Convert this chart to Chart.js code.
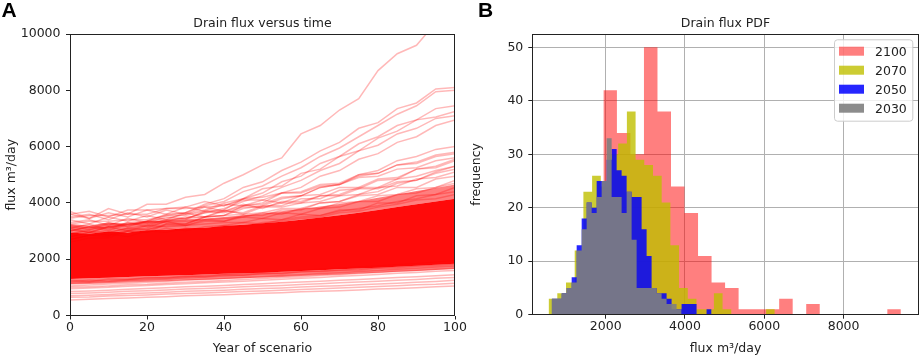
<!DOCTYPE html>
<html><head><meta charset="utf-8">
<script src="https://cdn.jsdelivr.net/npm/chart.js@4.4.1/dist/chart.umd.min.js"></script>
<style>
html,body{margin:0;padding:0;background:#fff;width:920px;height:359px;overflow:hidden;}
#wa{position:absolute;left:0;top:0;width:470px;height:359px;}
#wb{position:absolute;left:460px;top:0;width:460px;height:359px;}
</style></head><body>
<div id="wa"><canvas id="ca" width="470" height="359"></canvas></div>
<div id="wb"><canvas id="cb" width="460" height="359"></canvas></div>
<script>
// ---------- data: panel A (drain flux vs time) ----------
const years = [0,5,10,15,20,25,30,35,40,45,50,55,60,65,70,75,80,85,90,95,100];
const xTicksA = [0,20,40,60,80,100];
const yTicksA = [0,2000,4000,6000,8000,10000];
// dense envelope of the ensemble
const bandOuterLow  = [1100,1120,1150,1170,1200,1220,1250,1270,1300,1320,1350,1370,1400,1430,1460,1490,1520,1550,1580,1620,1650];
const coreLow       = [1300,1320,1340,1370,1390,1410,1430,1460,1480,1500,1520,1550,1580,1610,1640,1670,1700,1730,1770,1800,1840];
const coreHigh      = [2950,2900,2980,2950,3030,3050,3100,3120,3180,3220,3280,3330,3400,3480,3560,3650,3750,3850,3950,4050,4150];
const bandOuterHigh = [3250,3200,3300,3250,3350,3380,3420,3450,3500,3560,3620,3700,3780,3870,3960,4060,4180,4300,4420,4530,4650];
// individual realisations outside the dense core
const outlierRuns = [
 [3600,3450,3800,3600,3950,3950,4200,4300,4700,5000,5350,5600,6450,6750,7300,7700,8700,9300,9600,10400,11200],
 [3000,3150,3100,3300,3350,3600,3650,3950,4150,4550,4750,5150,5450,5850,6150,6650,6850,7350,7550,8050,8100],
 [2900,3050,3150,3250,3350,3550,3650,3900,4050,4400,4600,4950,5250,5650,5950,6350,6750,7150,7450,7950,8000],
 [2700,2850,2850,3050,3100,3350,3400,3700,3750,4150,4350,4750,4950,5400,5650,6100,6350,6750,6950,7350,7450],
 [3100,2950,3150,3200,3350,3450,3600,3750,4000,4150,4500,4600,5050,5200,5650,5850,6300,6550,6950,7050,7250],
 [2800,2950,2950,3100,3200,3400,3450,3650,3800,4050,4250,4550,4800,5150,5400,5850,6050,6450,6650,7000,7100],
 [2600,2750,2750,3000,2950,3250,3250,3500,3550,3900,4000,4350,4550,4950,5150,5550,5750,6150,6350,6750,6950],
 [2700,2850,2800,3000,3050,3250,3250,3500,3550,3800,3900,4150,4250,4550,4650,5000,5150,5500,5650,5900,6000],
 [3000,3150,3000,3250,3250,3400,3450,3650,3700,3900,3950,4200,4250,4550,4650,4950,5050,5350,5450,5700,5800]
];
const upperRuns = [
 [3700,3450,3650,3500,3750,3600,3850,3700,3950,3900,4100,4000,4250,4300,4550,4550,4850,4900,5200,5250,5500],
 [3500,3600,3400,3650,3500,3750,3600,3850,3700,3950,3800,4050,4050,4250,4300,4550,4550,4850,4950,5150,5300],
 [3400,3250,3500,3350,3550,3400,3650,3500,3750,3600,3850,3850,4000,4050,4250,4300,4550,4600,4850,4900,5100],
 [3300,3400,3200,3450,3300,3500,3450,3500,3550,3600,3650,3800,3800,4000,4050,4250,4300,4550,4550,4850,4950],
 [3200,3100,3300,3150,3350,3300,3350,3400,3450,3500,3650,3600,3800,3800,4000,4050,4250,4300,4500,4550,4800],
 [3100,3250,3050,3300,3150,3350,3200,3400,3350,3500,3450,3650,3600,3800,3850,4050,4050,4300,4350,4550,4700],
 [3600,3700,3500,3750,3750,3800,3850,4050,3900,4150,4200,4350,4400,4650,4700,5000,5050,5350,5400,5650,5750],
 [3050,2950,3150,3000,3200,3150,3200,3250,3300,3300,3450,3400,3600,3550,3750,3750,4000,4000,4250,4300,4550],
 [3450,3550,3550,3600,3600,3800,3800,3850,3900,4100,4100,4350,4350,4600,4650,4900,4950,5200,5250,5500,5600],
 [3250,3350,3350,3400,3400,3550,3550,3700,3650,3850,3850,4000,4000,4250,4250,4500,4500,4750,4800,5050,5200],
 [2900,3000,2950,3100,3050,3200,3200,3350,3350,3550,3550,3750,3750,4000,4050,4300,4400,4700,4800,5100,5300],
 [3150,3050,3250,3250,3300,3350,3500,3500,3700,3650,3900,3900,4150,4150,4450,4500,4800,4850,5200,5300,5550]
];
const edgeRuns = [
 [2800,2950,2850,3000,2950,3100,3000,3150,3200,3150,3300,3350,3450,3500,3650,3700,3850,3950,4100,4150,4300],
 [2700,2850,2900,2800,3000,2950,3100,3050,3200,3300,3250,3400,3500,3550,3700,3800,3900,4050,4150,4300,4400],
 [1250,1200,1300,1280,1350,1330,1400,1380,1450,1430,1500,1480,1550,1560,1600,1620,1680,1700,1750,1780,1820]
];
const lowerRuns = [
 [550,580,600,620,650,670,700,720,740,760,790,810,840,860,880,910,940,960,990,1020,1050],
 [700,720,750,780,800,830,860,880,900,930,960,980,1010,1040,1060,1090,1120,1150,1180,1210,1250],
 [850,870,900,930,960,990,1020,1040,1070,1100,1130,1160,1190,1220,1250,1280,1310,1350,1380,1410,1450],
 [950,980,1000,1040,1070,1100,1130,1160,1190,1220,1250,1290,1320,1350,1390,1420,1460,1500,1530,1570,1600],
 [1050,1080,1120,1150,1180,1210,1250,1280,1310,1350,1380,1420,1450,1490,1520,1560,1600,1640,1680,1720,1760],
 [1150,1180,1200,1240,1270,1300,1340,1370,1400,1440,1470,1510,1550,1580,1620,1660,1700,1740,1780,1820,1860],
 [650,660,690,710,730,760,780,800,830,850,870,900,920,950,980,1000,1030,1060,1090,1110,1150],
 [780,800,830,860,880,910,940,960,990,1020,1050,1070,1100,1130,1160,1190,1220,1250,1280,1320,1350],
 [1000,1020,1050,1090,1110,1150,1180,1210,1240,1280,1310,1350,1380,1420,1450,1490,1530,1570,1600,1640,1680],
 [1200,1250,1230,1280,1320,1350,1380,1420,1460,1490,1530,1570,1610,1650,1690,1730,1770,1810,1850,1900,1950]
];

// ---------- data: panel B (histograms) ----------
const xTicksB = [2000,4000,6000,8000];
const yTicksB = [0,10,20,30,40,50];
const histLabels = ['2100','2070','2050','2030'];
const counts2100 = [42,34,30,50,38,24,19,11,6,5,1,1,1,3,0,2,0,0,0,0,0,1];
const bin2100 = {start:1942, width:341};
const counts2070 = [3,4,6,12,23,26,24,30,32,38,29,28,26,21,13,5,3,1,1,4,1,0,0,0,0,1];
const bin2070 = {start:560, width:219.4};
const counts2050 = [3,3,4,5,7,13,18,21,20,25,25,29,31,27,26,23,22,22,16,11,5,4,4,3,1,1,2,2,2,0,0,1];
const bin2050 = {start:638, width:126};
const counts2030 = [3,3,4,5,6,12,16,21,19,22,25,33,22,22,19,23,14,5,5,5,5,4,3,2,2,1];
const bin2030 = {start:638, width:126};

// ---------- styles ----------
const FONT = '"DejaVu Sans", sans-serif';
const TXT = '#222';
Chart.defaults.font.family = FONT;
Chart.defaults.font.size = 12.5;
Chart.defaults.color = TXT;
Chart.defaults.animation = false;

function toPts(vals){ return vals.map((v,i)=>({x:years[i], y:v})); }

const framePlugin = {id:'frame', afterDraw(chart){
  const {ctx, chartArea:a} = chart;
  ctx.save(); ctx.strokeStyle = TXT; ctx.lineWidth = 1;
  const l = Math.round(a.left)+0.5, t = Math.round(a.top)+0.5, r = Math.round(a.right)-0.5, b = Math.round(a.bottom)-0.5;
  ctx.strokeRect(l, t, r-l, b-t);
  ctx.restore();
}};
function textPlugin(title, panel, panelX){ return {id:'txt', afterDraw(chart){
  const {ctx, chartArea:a} = chart;
  ctx.save();
  ctx.fillStyle = TXT; ctx.font = '12.5px ' + FONT; ctx.textAlign = 'center'; ctx.textBaseline = 'alphabetic';
  ctx.fillText(title, (a.left+a.right)/2, 26.5);
  ctx.fillStyle = '#000'; ctx.font = 'bold 21px "Liberation Sans", Arial, sans-serif'; ctx.textAlign = 'left';
  ctx.fillText(panel, panelX, 16.7);
  ctx.restore();
}};}

function axisCommon(ticksArr, size, fitKey, fitVal, title, titlePad, grid){
  return {
    type:'linear',
    afterBuildTicks: s => { s.ticks = ticksArr.map(v => ({value:v})); },
    afterFit: s => { s[fitKey] = fitVal; },
    border:{display:false},
    grid: grid,
    ticks:{color:TXT, font:{size:12.5}, padding: size, callback: v => String(v)},
    title:{display:true, text:title, color:TXT, font:{size:12.5}, padding: titlePad}
  };
}

// ---------- chart A ----------
const dsA = [];
const fillBase = {borderWidth:0, pointRadius:0, order:10};
dsA.push(Object.assign({data:toPts(bandOuterLow), fill:false}, fillBase));
dsA.push(Object.assign({data:toPts(coreLow), fill:'-1', backgroundColor:'rgba(255,0,0,0.5)'}, fillBase));
dsA.push(Object.assign({data:toPts(coreHigh), fill:'-1', backgroundColor:'rgba(255,0,0,0.96)'}, fillBase));
dsA.push(Object.assign({data:toPts(bandOuterHigh), fill:'-1', backgroundColor:'rgba(255,0,0,0.5)'}, fillBase));
[...lowerRuns, ...edgeRuns, ...upperRuns, ...outlierRuns].forEach(r => dsA.push({
  data:toPts(r), borderColor:'rgba(255,0,0,0.28)', borderWidth:1.5, pointRadius:0, fill:false, tension:0, order:0
}));
const gridA = {display:true, drawOnChartArea:false, drawTicks:true, tickLength:4, tickColor:TXT, tickWidth:1};
const xA = axisCommon(xTicksA, 1, 'height', 43.5, 'Year of scenario', {top:0, bottom:3}, gridA);
xA.min = 0; xA.max = 100;
const yA = axisCommon(yTicksA, 5.5, 'width', 70, 'flux m³/day', {top:4.5, bottom:0}, gridA);
yA.min = 0; yA.max = 10000;
new Chart(document.getElementById('ca'), {
  type:'line',
  data:{datasets:dsA},
  options:{responsive:false, events:[], layout:{padding:{left:0, right:15, top:34, bottom:0}},
    plugins:{legend:{display:false}, tooltip:{enabled:false}},
    scales:{x:xA, y:yA}},
  plugins:[framePlugin, textPlugin('Drain flux versus time', 'A', 1.5)]
});

// ---------- chart B ----------
function histPts(bin, counts){
  const pts = [{x:bin.start, y:0}];
  counts.forEach((c,i) => pts.push({x:bin.start + i*bin.width, y:c}));
  pts.push({x:bin.start + counts.length*bin.width, y:0});
  return pts;
}
const histColors = ['rgba(255,0,0,0.5)', 'rgba(191,191,0,0.8)', 'rgba(0,0,255,0.85)', 'rgba(128,128,128,0.9)'];
const histData = [[bin2100,counts2100],[bin2070,counts2070],[bin2050,counts2050],[bin2030,counts2030]];
const dsB = histData.map((h,i) => ({
  label:histLabels[i], data:histPts(h[0], h[1]), stepped:'before', fill:'origin',
  backgroundColor:histColors[i], borderWidth:0, pointRadius:0, order:4-i
}));
const gridB = {display:true, drawOnChartArea:true, color:'#b0b0b0', lineWidth:1, drawTicks:true, tickLength:4, tickColor:TXT, tickWidth:1};
const xB = axisCommon(xTicksB, 1, 'height', 44.3, 'flux m³/day', {top:0, bottom:3}, gridB);
xB.min = 149; xB.max = 9894; xB.z = 1;
const yB = axisCommon(yTicksB, 5, 'width', 72.3, 'frequency', {top:9.5, bottom:0}, gridB);
yB.min = 0; yB.max = 52.5; yB.z = 1;
const legendPlugin = {id:'leg', afterDraw(chart){
  const ctx = chart.ctx;
  ctx.save();
  const bx = 374, by = 39.3, bw = 78.3, bh = 81.4, r = 3;
  ctx.beginPath();
  ctx.roundRect(bx+0.5, by+0.5, bw, bh, r);
  ctx.fillStyle = 'rgba(255,255,255,0.8)'; ctx.fill();
  ctx.strokeStyle = '#cccccc'; ctx.lineWidth = 1; ctx.stroke();
  histLabels.forEach((lab,i) => {
    const cy = 51.2 + i*19;
    ctx.fillStyle = histColors[i];
    ctx.fillRect(379, cy-4.5, 25, 9);
    ctx.fillStyle = TXT; ctx.font = '12.5px ' + FONT; ctx.textAlign = 'left'; ctx.textBaseline = 'alphabetic';
    ctx.fillText(lab, 415, cy+4.6);
  });
  ctx.restore();
}};
new Chart(document.getElementById('cb'), {
  type:'line',
  data:{datasets:dsB},
  options:{responsive:false, events:[], layout:{padding:{left:0, right:1.3, top:34, bottom:0}},
    plugins:{legend:{display:false}, tooltip:{enabled:false}},
    scales:{x:xB, y:yB}},
  plugins:[framePlugin, textPlugin('Drain flux PDF', 'B', 18), legendPlugin]
});
</script>
</body></html>
